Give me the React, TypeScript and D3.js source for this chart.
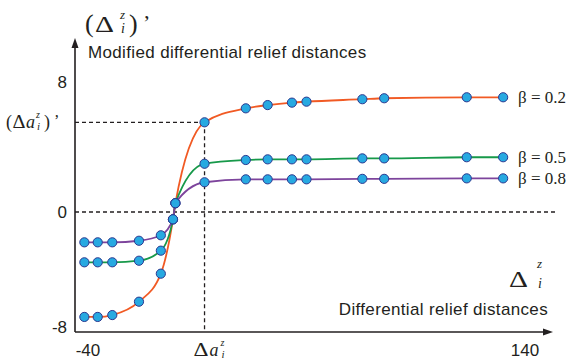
import React, { FC } from "react"
import { scaleLinear, line, curveMonotoneX } from "d3"

// x positions shared by all three curves
const xValues = [-41.5, -36, -30, -19, -10, -5, -4, 8, 25, 34, 44, 50, 73, 82, 116, 131]

// modified differential relief distances per beta
const beta02 = [-7.3, -7.3, -7.17, -6.24, -4.29, -0.51, 0.54, 5.52, 6.38, 6.58, 6.73, 6.79, 6.94, 7.0, 7.06, 7.06]
const beta05 = [-3.5, -3.5, -3.5, -3.39, -2.69, -0.51, 0.54, 2.97, 3.2, 3.24, 3.24, 3.24, 3.3, 3.3, 3.37, 3.37]
const beta08 = [-2.11, -2.11, -2.11, -2.0, -1.62, -0.51, 0.54, 1.83, 2.01, 2.01, 2.01, 2.01, 2.04, 2.04, 2.07, 2.07]

const seriesLabels = ["β = 0.2", "β = 0.5", "β = 0.8"]
const seriesColors = ["#f15a24", "#17994a", "#7d449c"]

const yTicks = [-8, 0, 8]
const xTicks = [-40, 140]

// index of the highlighted point (Δa)
const markIndex = 7

type P = { x: number; y: number }

const App: FC = () => {
  // dimensions
  const width = 571
  const height = 362
  const axisX = 75
  const axisY = 332

  // scales
  const xScale = scaleLinear().domain([-40, 140]).range([88, 525])
  const yScale = scaleLinear().domain([-8, 0, 8]).range([327, 212, 82])

  const series = [beta02, beta05, beta08].map((ys) =>
    ys.map((y, i) => ({ x: xValues[i], y })),
  )

  const lineGenerator = line<P>()
    .x((d) => xScale(d.x))
    .y((d) => yScale(d.y))
    .curve(curveMonotoneX)

  const markX = xScale(xValues[markIndex])
  const markY = yScale(beta02[markIndex])
  const zeroY = yScale(0)

  const sans = "'Liberation Sans', Arial, sans-serif"
  const serif = "'Liberation Serif', 'Times New Roman', serif"
  const ink = "#231f20"

  return (
    <svg
      width={width}
      height={height}
      style={{ position: "absolute", left: 0, top: 0, background: "#fff" }}
    >
      {/* dashed guides */}
      <line x1={axisX} x2={555} y1={zeroY} y2={zeroY} stroke={ink} strokeWidth={1.3} strokeDasharray="4,3" />
      <line x1={axisX} x2={markX} y1={markY} y2={markY} stroke={ink} strokeWidth={1.3} strokeDasharray="4,3" />
      <line x1={markX} x2={markX} y1={markY} y2={axisY} stroke={ink} strokeWidth={1.3} strokeDasharray="4,3" />

      {/* axes */}
      <line x1={axisX} x2={axisX} y1={axisY} y2={44} stroke={ink} strokeWidth={1.6} />
      <path d={`M${axisX},38 L${axisX - 3.5},48 L${axisX + 3.5},48 Z`} fill={ink} />
      <line x1={axisX} x2={547} y1={axisY} y2={axisY} stroke={ink} strokeWidth={1.6} />
      <path d={`M553,${axisY} L543,${axisY - 3.5} L543,${axisY + 3.5} Z`} fill={ink} />

      {/* y ticks */}
      {yTicks.map((t) => (
        <text key={t} x={67} y={yScale(t) + 6} textAnchor="end" fontFamily={sans} fontSize={17} fill={ink}>
          {t}
        </text>
      ))}

      {/* x ticks */}
      {xTicks.map((t) => (
        <text key={t} x={xScale(t)} y={356} textAnchor="middle" fontFamily={sans} fontSize={17} fill={ink}>
          {t}
        </text>
      ))}

      {/* curves */}
      {series.map((s, i) => (
        <path key={i} d={lineGenerator(s) || ""} fill="none" stroke={seriesColors[i]} strokeWidth={1.8} />
      ))}

      {/* points */}
      {series.map((s, i) =>
        s.map((d, j) => (
          <circle
            key={`${i}-${j}`}
            cx={xScale(d.x)}
            cy={yScale(d.y)}
            r={4.6}
            fill="#27a9e1"
            stroke="#2b3990"
            strokeWidth={1}
          />
        )),
      )}

      {/* series labels */}
      {series.map((s, i) => (
        <text
          key={i}
          x={518}
          y={yScale(s[s.length - 1].y) + 6}
          fontFamily={serif}
          fontSize={17}
          fill={ink}
        >
          {seriesLabels[i]}
        </text>
      ))}

      {/* y title */}
      <g fontFamily={serif} fill={ink}>
        <text x={85} y={32} fontSize={26}>(</text>
        <text x={95} y={32} fontSize={23} textLength={19} lengthAdjust="spacingAndGlyphs">Δ</text>
        <text x={120} y={19} fontSize={13} fontStyle="italic">z</text>
        <text x={121} y={33} fontSize={14} fontStyle="italic">i</text>
        <text x={129} y={32} fontSize={26}>)</text>
        <text x={143} y={30} fontSize={22}>’</text>
      </g>
      <text x={88} y={58} fontFamily={sans} fontSize={17} letterSpacing={0.35} fill={ink}>
        Modified differential relief distances
      </text>

      {/* x title */}
      <g fontFamily={serif} fill={ink}>
        <text x={509} y={287} fontSize={23} textLength={19} lengthAdjust="spacingAndGlyphs">Δ</text>
        <text x={537} y={268} fontSize={13} fontStyle="italic">z</text>
        <text x={538} y={288} fontSize={14} fontStyle="italic">i</text>
      </g>
      <text x={548} y={315} textAnchor="end" fontFamily={sans} fontSize={17} letterSpacing={0.35} fill={ink}>
        Differential relief distances
      </text>

      {/* highlighted value labels */}
      <g fontFamily={serif} fill={ink}>
        <text x={6} y={markY + 6} fontSize={18}>(</text>
        <text x={12.5} y={markY + 6} fontSize={18} textLength={13} lengthAdjust="spacingAndGlyphs">Δ</text>
        <text x={26} y={markY + 6} fontSize={18} fontStyle="italic">a</text>
        <text x={36} y={markY - 4} fontSize={10} fontStyle="italic">z</text>
        <text x={37} y={markY + 8} fontSize={11} fontStyle="italic">i</text>
        <text x={44} y={markY + 6} fontSize={18}>)</text>
        <text x={54} y={markY + 4} fontSize={16}>’</text>

        <text x={markX - 11} y={356} fontSize={18} textLength={15} lengthAdjust="spacingAndGlyphs">Δ</text>
        <text x={markX + 5} y={356} fontSize={18} fontStyle="italic">a</text>
        <text x={markX + 16} y={346} fontSize={10} fontStyle="italic">z</text>
        <text x={markX + 17} y={358} fontSize={11} fontStyle="italic">i</text>
      </g>
    </svg>
  )
}

export default App
